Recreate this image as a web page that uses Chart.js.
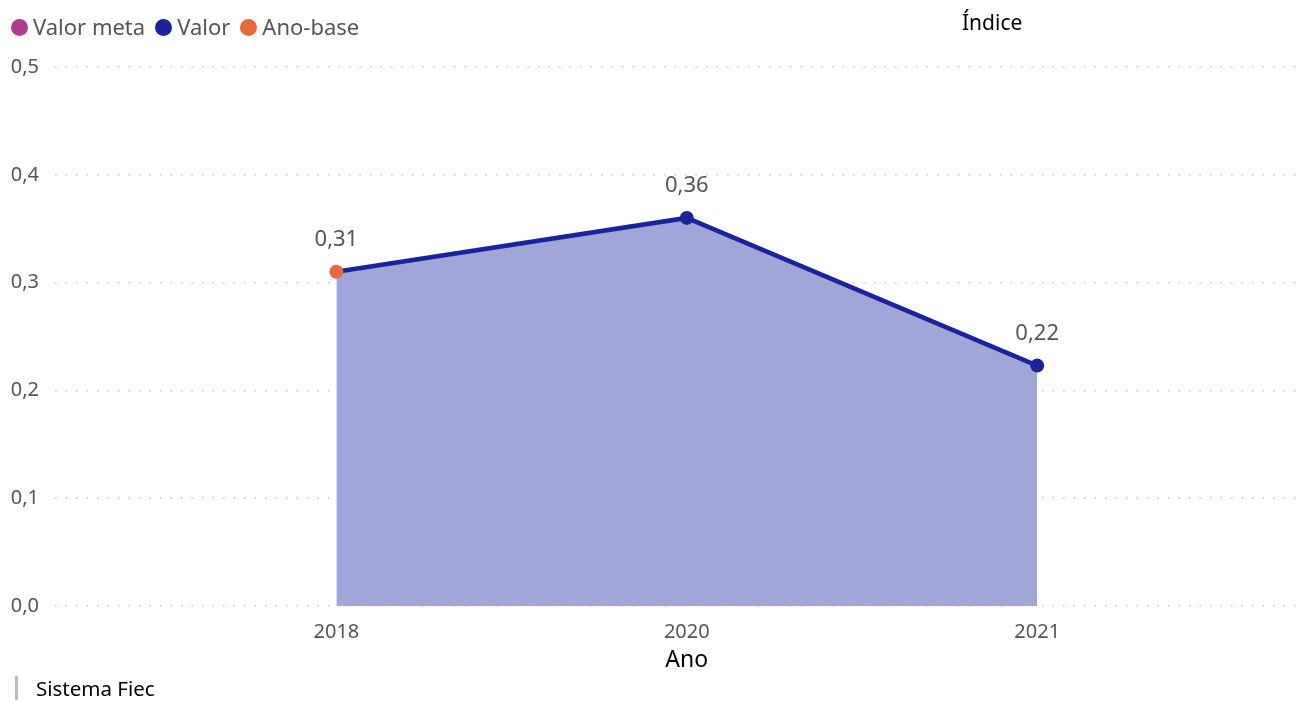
<!DOCTYPE html>
<html>
<head>
<meta charset="utf-8">
<script src="https://cdn.jsdelivr.net/npm/chart.js@4"></script>
<style>
  body { margin: 0; background: #fff; font-family: "Segoe UI", "Noto Sans", sans-serif; }
  #wrap { position: relative; width: 1308px; height: 702px; }
  #legend { position: absolute; left: 11px; top: 11px; font-size: 22px; color: #555; display: flex; gap: 10px; }
  #legend span.dot { display: inline-block; width: 17px; height: 17px; border-radius: 50%; margin-right: 5px; vertical-align: -1px; }
  #title { position: absolute; left: 962px; top: 8px; font-size: 21px; color: #000; }
  #footer { position: absolute; left: 15px; top: 676px; font-size: 20.5px; color: #000; border-left: 3px solid #bbb; padding-left: 18px; line-height: 24px; }
</style>
</head>
<body>
<div id="wrap">
  <canvas id="myChart" width="1308" height="702"></canvas>
  <div id="legend"></div>
  <div id="title">Índice</div>
  <div id="footer">Sistema Fiec</div>
</div>
<script>
const anos = ['2018', '2020', '2021']
const valores = [0.31, 0.36, 0.223]
const yTicks = [0, 0.1, 0.2, 0.3, 0.4, 0.5]
const legendNames = ['Valor meta', 'Valor', 'Ano-base']
const legendColors = ['#B03A8C', '#1A239C', '#E8693A']
const fontFam = '"Segoe UI", "Noto Sans", sans-serif'

const legend = document.getElementById('legend')
legendNames.forEach((name, i) => {
  const item = document.createElement('div')
  item.innerHTML = `<span class="dot" style="background:${legendColors[i]}"></span>${name}`
  legend.append(item)
})

const fmt = v => v.toFixed(2).replace('.', ',')

const dataLabels = {
  id: 'dataLabels',
  afterDatasetsDraw(chart) {
    const ctx = chart.ctx
    const meta = chart.getDatasetMeta(0)
    ctx.save()
    ctx.font = '22px ' + fontFam
    ctx.fillStyle = '#555'
    ctx.textAlign = 'center'
    ctx.textBaseline = 'bottom'
    meta.data.forEach((pt, i) => {
      ctx.fillText(fmt(valores[i]), pt.x, pt.y - 21)
    })
    // x axis title, centred under the middle category
    const xs = chart.scales.x
    ctx.font = '23px ' + fontFam
    ctx.fillStyle = '#000'
    ctx.textBaseline = 'middle'
    ctx.fillText('Ano', xs.getPixelForValue(1), 660)
    ctx.restore()
  }
}

const ctx = document.getElementById('myChart')
new Chart(ctx, {
  type: 'line',
  data: {
    datasets: [{
      data: valores.map((v, i) => ({ x: i, y: v })),
      borderColor: '#1A239C',
      borderWidth: 4.5,
      backgroundColor: 'rgba(160,166,216,1)',
      fill: 'origin',
      tension: 0,
      pointRadius: 7,
      pointHoverRadius: 7,
      pointBorderWidth: 0,
      pointBackgroundColor: valores.map((v, i) => i === 0 ? '#E8693A' : '#1A239C')
    }]
  },
  options: {
    responsive: false,
    animation: false,
    layout: { padding: { top: 67, right: 8, bottom: 20, left: 0 } },
    plugins: { legend: { display: false }, tooltip: { enabled: false } },
    scales: {
      x: {
        type: 'linear',
        min: -0.803,
        max: 2.75,
        afterBuildTicks: scale => { scale.ticks = anos.map((a, i) => ({ value: i })) },
        afterFit: scale => { scale.height = 76 },
        ticks: {
          callback: (v) => anos[v],
          color: '#555',
          font: { size: 20, family: fontFam },
          padding: 6
        },
        grid: { display: false },
        border: { display: false }
      },
      y: {
        min: 0,
        max: 0.5,
        afterBuildTicks: scale => { scale.ticks = yTicks.map(v => ({ value: v })) },
        afterFit: scale => { scale.width = 55 },
        ticks: {
          callback: v => v.toFixed(1).replace('.', ','),
          color: '#555',
          font: { size: 20, family: fontFam },
          padding: 16
        },
        grid: { color: '#c4c4c4', lineWidth: 1.5, drawTicks: false },
        border: { display: false, dash: [1.5, 9] }
      }
    }
  },
  plugins: [dataLabels]
})
</script>
</body>
</html>
